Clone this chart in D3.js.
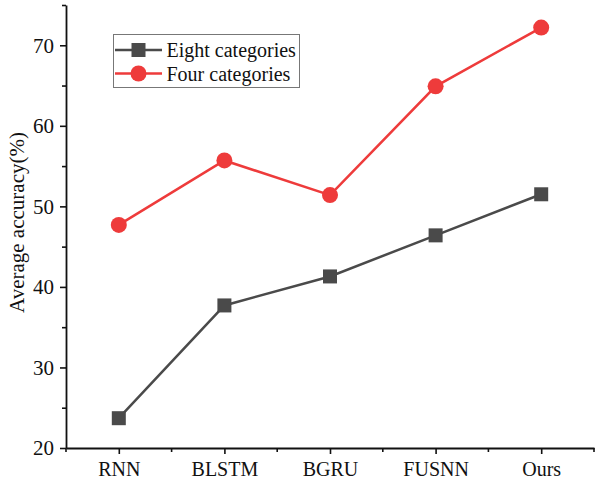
<!DOCTYPE html>
<html><head><meta charset="utf-8">
<script src="https://cdn.jsdelivr.net/npm/d3@7"></script>
<style>body{margin:0;background:#fff}svg{display:block}text{font-family:"Liberation Serif","Times New Roman",serif;fill:#111}</style>
</head><body><svg id="c" width="600" height="482"></svg>
<script>
const categories = ["RNN","BLSTM","BGRU","FUSNN","Ours"];
const eightCategories = [23.7, 37.7, 41.3, 46.4, 51.5];
const fourCategories = [47.7, 55.7, 51.4, 64.9, 72.2];
const yTicks = [20,30,40,50,60,70];
const yMinorTicks = [25,35,45,55,65,75];
const seriesNames = ["Eight categories","Four categories"];

const svg = d3.select("#c");
const L=66, R=594, T=5, B=448;
const x = d3.scalePoint().domain(categories).range([L,R]).padding(0.5);
const y = d3.scaleLinear().domain([20,75]).range([B,T]);
const gray="#4a4a4a", red="#ee3b3b";

// axes
const yAxis = svg.append("g").attr("transform",`translate(${L},0)`)
  .call(d3.axisLeft(y).tickValues(yTicks).tickSize(6).tickPadding(6).tickSizeOuter(0));
svg.append("g").attr("transform",`translate(${L},0)`)
  .call(d3.axisLeft(y).tickValues(yMinorTicks).tickSize(4).tickFormat("").tickSizeOuter(0))
  .select(".domain").remove();
const xAxis = svg.append("g").attr("transform",`translate(0,${B})`)
  .call(d3.axisBottom(x).tickSize(6).tickPadding(8).tickSizeOuter(0));
const step = x.step();
const xMinor = [L].concat(categories.map(c=>x(c)+step/2));
svg.append("g").selectAll("line").data(xMinor).join("line")
  .attr("x1",d=>d).attr("x2",d=>d).attr("y1",B).attr("y2",B+4)
  .attr("stroke","#111").attr("stroke-width",1.6);
svg.selectAll(".tick line").attr("stroke","#111").attr("stroke-width",1.6);
svg.selectAll(".domain").attr("stroke","#111").attr("stroke-width",1.8);
yAxis.selectAll("text").style("font-size","21px");
xAxis.selectAll("text").style("font-size","20px");
svg.selectAll(".tick text").attr("fill","#111").style("font-family","'Liberation Serif',serif");

svg.append("text").attr("transform",`translate(24,${(T+B)/2-4}) rotate(-90)`)
  .attr("text-anchor","middle").style("font-size","21px").text("Average accuracy(%)");

// series
const line = d3.line().x((d,i)=>x(categories[i])).y(d=>y(d));
svg.append("path").datum(eightCategories).attr("d",line).attr("fill","none").attr("stroke",gray).attr("stroke-width",2.5);
svg.append("path").datum(fourCategories).attr("d",line).attr("fill","none").attr("stroke",red).attr("stroke-width",2.5);
svg.append("g").selectAll("rect").data(eightCategories).join("rect")
  .attr("x",(d,i)=>x(categories[i])-7).attr("y",d=>y(d)-7).attr("width",14).attr("height",14).attr("fill",gray);
svg.append("g").selectAll("circle").data(fourCategories).join("circle")
  .attr("cx",(d,i)=>x(categories[i])).attr("cy",d=>y(d)).attr("r",8).attr("fill",red);

// legend
const lg = svg.append("g");
lg.append("rect").attr("x",113.5).attr("y",34.5).attr("width",186).attr("height",53).attr("fill","#fff").attr("stroke","#777").attr("stroke-width",1);
const rows=[{name:seriesNames[0],c:gray,sh:"sq",y:50},{name:seriesNames[1],c:red,sh:"ci",y:73.5}];
rows.forEach(r=>{
  lg.append("line").attr("x1",115).attr("x2",162).attr("y1",r.y).attr("y2",r.y).attr("stroke",r.c).attr("stroke-width",2.5);
  if(r.sh==="sq") lg.append("rect").attr("x",138.5-7).attr("y",r.y-7).attr("width",14).attr("height",14).attr("fill",r.c);
  else lg.append("circle").attr("cx",138.5).attr("cy",r.y).attr("r",8).attr("fill",r.c);
  lg.append("text").attr("x",166.5).attr("y",r.y+7).style("font-size","20px").text(r.name);
});
</script></body></html>
